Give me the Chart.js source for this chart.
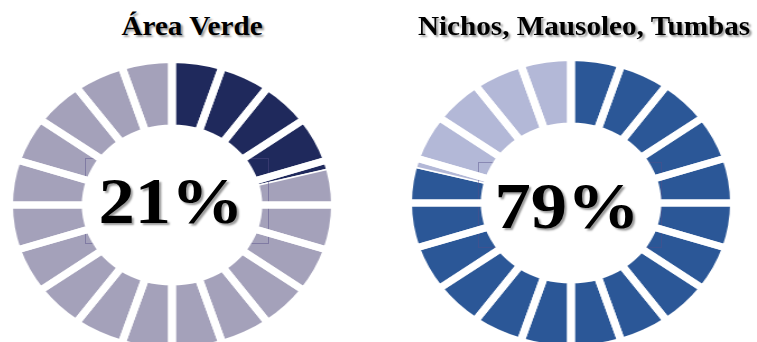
<!DOCTYPE html>
<html>
<head>
<meta charset="utf-8">
<script src="https://cdn.jsdelivr.net/npm/chart.js@4.4.1/dist/chart.umd.min.js"></script>
<style>
  html, body { margin: 0; padding: 0; background: #fff; }
  #stage { position: relative; width: 757px; height: 342px; overflow: hidden; }
  .ring { position: absolute; width: 300px; height: 300px; transform: scaleX(1.12); transform-origin: 50% 50%; }
  .ring canvas { position: absolute; left: 0; top: 0; }
  .hole { position: absolute; border-radius: 50%; background: #fff; }
  .box { position: absolute; box-sizing: border-box; border: 1px solid rgba(85, 78, 135, 0.45); }
  .txt {
    position: absolute; white-space: nowrap; color: #000;
    font-family: "Liberation Serif", "Times New Roman", serif; font-weight: bold;
    text-shadow: 2px 2px 2px rgba(0, 0, 0, 0.4);
    transform-origin: 50% 50%;
  }
  .title { font-size: 27px; line-height: 27px; }
  .pct { font-size: 66px; line-height: 66px; }
</style>
</head>
<body>
<div id="stage"></div>
<script>
// Share of the cemetery surface, in percent
const titles = ['Área Verde', 'Nichos, Mausoleo, Tumbas'];
const areaVerde = [21, 79];      // green area, rest
const nichos = [79, 21];         // niches / mausoleums / tombs, rest
const shownShare = [areaVerde[0], nichos[0]];

// Twenty equal divisions of each ring (5 % apiece)
const ringSegments = [5, 5, 5, 5, 5, 5, 5, 5, 5, 5, 5, 5, 5, 5, 5, 5, 5, 5, 5, 5];

const palettes = [
  ['#1f295c', '#a4a1ba'],
  ['#2b5797', '#b3b8d7']
];

const RADIUS = 145.5;
const CUTOUT = 0.53;
const SIZE = 300;

const layout = [
  { cx: 172, cy: 204.5, titleX: 192, pctX: 171, pctTop: 168, box: [85, 158, 184, 86] },
  { cx: 570.5, cy: 203, titleX: 584, pctX: 566.5, pctTop: 173, box: [478, 162, 184, 86] }
];

const stage = document.getElementById('stage');

function wrap(cx, cy) {
  const d = document.createElement('div');
  d.className = 'ring';
  d.style.left = (cx - SIZE / 2) + 'px';
  d.style.top = (cy - SIZE / 2) + 'px';
  stage.appendChild(d);
  return d;
}

function doughnut(parent, values, colors, borderWidth) {
  const c = document.createElement('canvas');
  c.width = SIZE; c.height = SIZE;
  parent.appendChild(c);
  return new Chart(c, {
    type: 'doughnut',
    data: {
      labels: values.map((_, i) => 'p' + i),
      datasets: [{ data: values, backgroundColor: colors, borderColor: '#ffffff', borderWidth: borderWidth }]
    },
    options: {
      responsive: false,
      animation: false,
      events: [],
      radius: RADIUS,
      cutout: (CUTOUT * 100) + '%',
      layout: { padding: 0 },
      plugins: { legend: { display: false }, tooltip: { enabled: false } }
    }
  });
}

const series = [areaVerde, nichos];

series.forEach((vals, k) => {
  const L = layout[k];

  // value ring
  doughnut(wrap(L.cx, L.cy), vals, palettes[k], 1.5);

  // text frame outline
  const b = document.createElement('div');
  b.className = 'box';
  b.style.left = L.box[0] + 'px';
  b.style.top = L.box[1] + 'px';
  b.style.width = L.box[2] + 'px';
  b.style.height = L.box[3] + 'px';
  stage.appendChild(b);

  // white centre of the ring
  const hw = wrap(L.cx, L.cy);
  const h = document.createElement('div');
  h.className = 'hole';
  const r = RADIUS * CUTOUT;
  h.style.left = (SIZE / 2 - r) + 'px';
  h.style.top = (SIZE / 2 - r) + 'px';
  h.style.width = (2 * r) + 'px';
  h.style.height = (2 * r) + 'px';
  hw.appendChild(h);

  // white dividers between the twenty divisions
  doughnut(wrap(L.cx, L.cy), ringSegments, ringSegments.map(() => 'rgba(0,0,0,0)'), 7);

  // percentage in the centre
  const p = document.createElement('div');
  p.className = 'txt pct';
  p.textContent = shownShare[k] + '%';
  p.style.left = L.pctX + 'px';
  p.style.top = L.pctTop + 'px';
  p.style.transform = 'translateX(-50%) scaleX(1.1)';
  stage.appendChild(p);

  // title
  const t = document.createElement('div');
  t.className = 'txt title';
  t.textContent = titles[k];
  t.style.left = L.titleX + 'px';
  t.style.top = '12.5px';
  t.style.transform = 'translateX(-50%) scaleX(1.08)';
  stage.appendChild(t);
});
</script>
</body>
</html>
